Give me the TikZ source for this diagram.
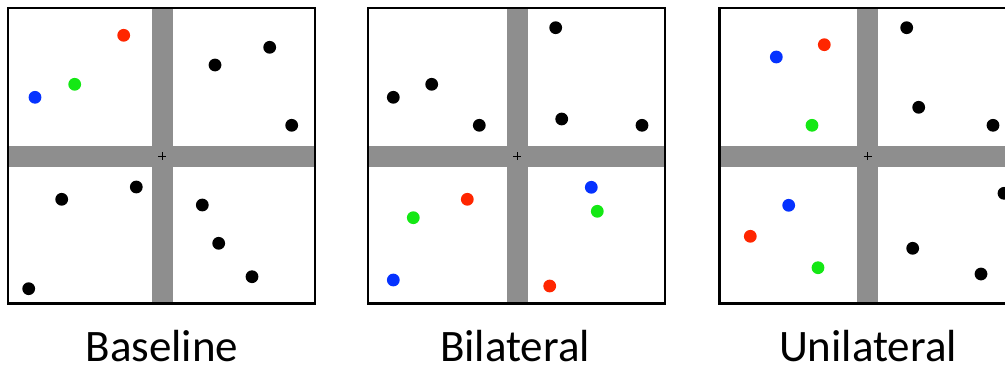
\documentclass[tikz,border=0pt]{standalone}
\usepackage{fontspec}
\setmainfont{Carlito}
\definecolor{barg}{RGB}{142,142,142}
\definecolor{dred}{RGB}{255,38,0}
\definecolor{dgreen}{RGB}{20,232,20}
\definecolor{dblue}{RGB}{5,50,255}
\tikzset{
  panelbox/.style={draw=black,line width=2.3pt},
  bar/.style={fill=barg},
  dot/.style={circle,inner sep=0pt,minimum size=12.8pt},
  kdot/.style={dot,fill=black},
  rdot/.style={dot,fill=dred},
  gdot/.style={dot,fill=dgreen},
  bdot/.style={dot,fill=dblue},
  lab/.style={font=\fontsize{45}{50}\selectfont,anchor=base,inner sep=0pt},
  fix/.style={line width=1pt,draw=black}
}
\newcommand{\mypanel}[5]{% left, right, top, bottom, cx ; cy fixed
  \fill[bar] (#5-10.5,#3) rectangle (#5+10.5,#4);
  \fill[bar] (#1,145.7) rectangle (#2,166.7);
  \draw[fix] (#5-4,156.2) -- (#5+4,156.2) (#5,152.2) -- (#5,160.2);
  \draw[panelbox] (#1,#3) rectangle (#2,#4);
}
\begin{document}
\begin{tikzpicture}[x=1pt,y=-1pt]
\useasboundingbox (0,0) rectangle (1005,367);
\clip (0,0) rectangle (1005,367);
% Panel 1
\mypanel{8.2}{314.7}{8.2}{303.5}{162.2}
\node[rdot] (a1) at (123.7,35.3) {};
\node[gdot] (a2) at (74.7,84.3) {};
\node[bdot] (a3) at (35,97.3) {};
\node[kdot] (a4) at (269.7,47.3) {};
\node[kdot] (a5) at (215,65) {};
\node[kdot] (a6) at (291.7,125.3) {};
\node[kdot] (a7) at (136.3,187) {};
\node[kdot] (a8) at (61.7,199.3) {};
\node[kdot] (a9) at (202.3,205) {};
\node[kdot] (a10) at (218.7,243.3) {};
\node[kdot] (a11) at (252,276.7) {};
\node[kdot] (a12) at (28.7,288.7) {};
% Panel 2
\mypanel{368.3}{664.7}{8.2}{303.5}{517}
\node[kdot] (b1) at (555.7,27.7) {};
\node[kdot] (b2) at (431.7,84.3) {};
\node[kdot] (b3) at (393.3,97.3) {};
\node[kdot] (b4) at (479.3,125.3) {};
\node[kdot] (b5) at (561.7,119) {};
\node[kdot] (b6) at (642,125.3) {};
\node[bdot] (b7) at (591.3,187.3) {};
\node[rdot] (b8) at (467.3,199.3) {};
\node[gdot] (b9) at (413.3,217.7) {};
\node[gdot] (b10) at (597.3,211.3) {};
\node[bdot] (b11) at (393.3,280) {};
\node[rdot] (b12) at (549.7,286) {};
% Panel 3
\mypanel{719.5}{1016}{8.2}{303.5}{867.7}
\node[kdot] (c1) at (906.7,27.7) {};
\node[rdot] (c2) at (824.3,44.7) {};
\node[bdot] (c3) at (776.3,57) {};
\node[kdot] (c4) at (918.7,107.3) {};
\node[gdot] (c5) at (812,125.3) {};
\node[kdot] (c6) at (993,125.3) {};
\node[kdot] (c7) at (1004,193.3) {};
\node[bdot] (c8) at (788.7,205.3) {};
\node[rdot] (c9) at (750.3,236.3) {};
\node[kdot] (c10) at (912.7,248.3) {};
\node[gdot] (c11) at (818,267.7) {};
\node[kdot] (c12) at (981,274) {};
% Labels
\node[lab] (l1) at (162,361) {Baseline};
\node[lab] (l2) at (515,361) {Bilateral};
\node[lab] (l3) at (868,361) {Unilateral};
\end{tikzpicture}
\end{document}
